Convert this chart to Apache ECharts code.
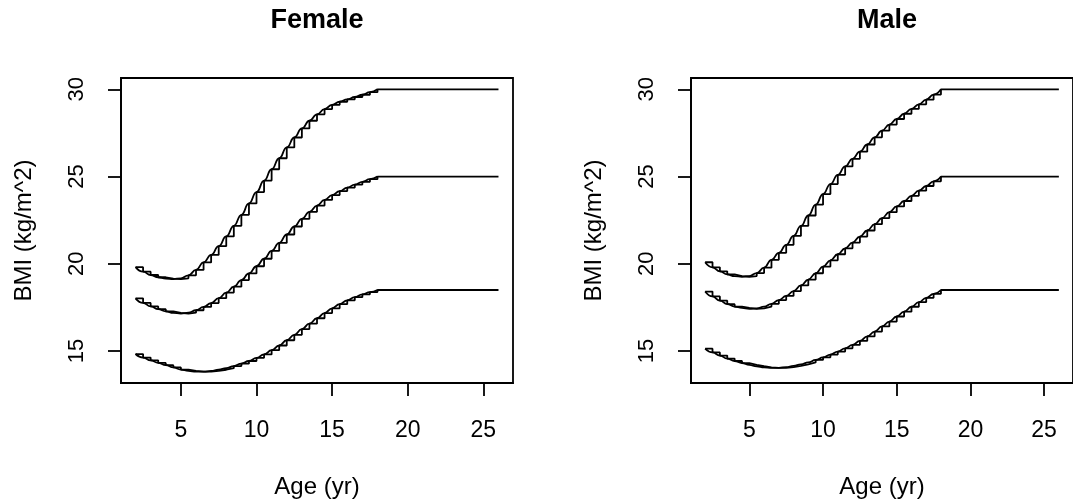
<!DOCTYPE html>
<html>
<head>
<meta charset="utf-8">
<title>BMI cut-offs by age</title>
<script src="https://cdn.jsdelivr.net/npm/echarts@6/dist/echarts.min.js"></script>
<style>
  html, body { margin: 0; padding: 0; background: #fff; }
  #chart { width: 1073px; height: 504px; }
</style>
</head>
<body>
<div id="chart"></div>
<script>
// Half-yearly ages at which the child cut-offs are tabulated
const ages = [2, 2.5, 3, 3.5, 4, 4.5, 5, 5.5, 6, 6.5, 7, 7.5, 8, 8.5, 9, 9.5, 10,
  10.5, 11, 11.5, 12, 12.5, 13, 13.5, 14, 14.5, 15, 15.5, 16, 16.5, 17, 17.5, 18];

// Female cut-offs (obesity, overweight, thinness)
const femaleObese = [19.81, 19.55, 19.36, 19.23, 19.15, 19.12, 19.17, 19.34, 19.65, 20.08,
  20.51, 21.01, 21.57, 22.18, 22.81, 23.46, 24.11, 24.77, 25.42, 26.05, 26.67, 27.24,
  27.76, 28.20, 28.57, 28.87, 29.11, 29.29, 29.43, 29.56, 29.69, 29.84, 30.00];
const femaleOverweight = [18.02, 17.76, 17.56, 17.40, 17.28, 17.19, 17.15, 17.20, 17.34, 17.53,
  17.75, 18.03, 18.35, 18.69, 19.07, 19.45, 19.86, 20.29, 20.74, 21.20, 21.68, 22.14,
  22.58, 22.98, 23.34, 23.66, 23.94, 24.17, 24.37, 24.54, 24.70, 24.85, 25.00];
const femaleThin = [14.83, 14.63, 14.47, 14.32, 14.19, 14.06, 13.94, 13.86, 13.82, 13.82,
  13.86, 13.93, 14.02, 14.14, 14.28, 14.43, 14.61, 14.81, 15.05, 15.32, 15.62, 15.93,
  16.26, 16.57, 16.88, 17.18, 17.45, 17.69, 17.91, 18.09, 18.25, 18.38, 18.50];

// Male cut-offs (obesity, overweight, thinness)
const maleObese = [20.09, 19.80, 19.57, 19.39, 19.29, 19.26, 19.30, 19.47, 19.78, 20.23,
  20.63, 21.09, 21.60, 22.17, 22.77, 23.39, 24.00, 24.57, 25.10, 25.58, 26.02, 26.43,
  26.84, 27.25, 27.63, 27.98, 28.30, 28.60, 28.88, 29.14, 29.41, 29.70, 30.00];
const maleOverweight = [18.41, 18.13, 17.89, 17.69, 17.55, 17.47, 17.42, 17.45, 17.55, 17.71,
  17.92, 18.16, 18.44, 18.76, 19.10, 19.46, 19.84, 20.20, 20.55, 20.89, 21.22, 21.56,
  21.91, 22.27, 22.62, 22.96, 23.29, 23.60, 23.90, 24.19, 24.46, 24.73, 25.00];
const maleThin = [15.14, 14.92, 14.74, 14.57, 14.43, 14.31, 14.21, 14.13, 14.07, 14.04,
  14.04, 14.08, 14.15, 14.24, 14.35, 14.49, 14.64, 14.80, 14.97, 15.16, 15.35, 15.58,
  15.84, 16.12, 16.41, 16.69, 16.98, 17.26, 17.54, 17.80, 18.05, 18.28, 18.50];

// Adult cut-offs carried on from age 18 to the last age shown
const adultEndAge = 26;
const adultCutoffs = [30, 25, 18.5];

// Axis ticks
const xTicks = [5, 10, 15, 20, 25];
const yTicks = [15, 20, 25, 30];
const panelTitles = ['Female', 'Male'];

const FONT = '"Liberation Sans", Arial, sans-serif';
const INK = '#000';

const chart = echarts.init(document.getElementById('chart'), null, { renderer: 'canvas' });

const panels = [
  { left: 121, curves: [femaleObese, femaleOverweight, femaleThin] },
  { left: 691, curves: [maleObese, maleOverweight, maleThin] }
];
const plotW = 392, plotH = 308, plotTop = 78;

const grids = [], xAxes = [], yAxes = [], titles = [], series = [];

panels.forEach((p, i) => {
  grids.push({
    left: p.left, top: plotTop, width: plotW, height: plotH,
    show: true, borderColor: INK, borderWidth: 1.8, backgroundColor: 'transparent',
    containLabel: false
  });
  titles.push({
    text: panelTitles[i],
    left: p.left + plotW / 2, top: 7, padding: 0, textAlign: 'center',
    textStyle: { fontFamily: FONT, fontWeight: 'bold', fontSize: 27, color: INK }
  });
  xAxes.push({
    type: 'value', gridIndex: i, min: 1.04, max: 26.96,
    name: 'Age (yr)', nameLocation: 'middle', nameGap: 92,
    nameTextStyle: { fontFamily: FONT, fontSize: 24, color: INK },
    axisLine: { show: true, lineStyle: { color: INK, width: 1.8 } },
    axisTick: { show: true, length: 13, customValues: xTicks, lineStyle: { color: INK, width: 1.8 } },
    axisLabel: { customValues: xTicks, margin: 36, fontFamily: FONT, fontSize: 23, color: INK },
    splitLine: { show: false }
  });
  yAxes.push({
    type: 'value', gridIndex: i, min: 13.17, max: 30.65,
    name: 'BMI (kg/m^2)', nameLocation: 'middle', nameGap: 85, nameRotate: 90,
    nameTextStyle: { fontFamily: FONT, fontSize: 24, color: INK },
    axisLine: { show: true, lineStyle: { color: INK, width: 1.8 } },
    axisTick: { show: true, length: 13, customValues: yTicks, lineStyle: { color: INK, width: 1.8 } },
    axisLabel: { customValues: yTicks, rotate: 90, margin: 33, fontFamily: FONT, fontSize: 22, color: INK },
    splitLine: { show: false }
  });

  p.curves.forEach((vals, k) => {
    // half-yearly staircase, extended flat over adult ages
    const stepData = ages.map((a, j) => [a, vals[j]]);
    stepData.push([adultEndAge, adultCutoffs[k]]);
    series.push({
      type: 'line', xAxisIndex: i, yAxisIndex: i, step: 'end',
      data: stepData, showSymbol: false, silent: true,
      lineStyle: { color: INK, width: 1.8 }
    });
    // smooth cut-off curve through the tabulated values
    series.push({
      type: 'line', xAxisIndex: i, yAxisIndex: i, smooth: 0.5, smoothMonotone: 'x',
      data: ages.map((a, j) => [a, vals[j]]), showSymbol: false, silent: true,
      lineStyle: { color: INK, width: 1.8 }
    });
  });
});

chart.setOption({
  animation: false,
  backgroundColor: '#fff',
  title: titles,
  grid: grids,
  xAxis: xAxes,
  yAxis: yAxes,
  series: series
});
</script>
</body>
</html>
